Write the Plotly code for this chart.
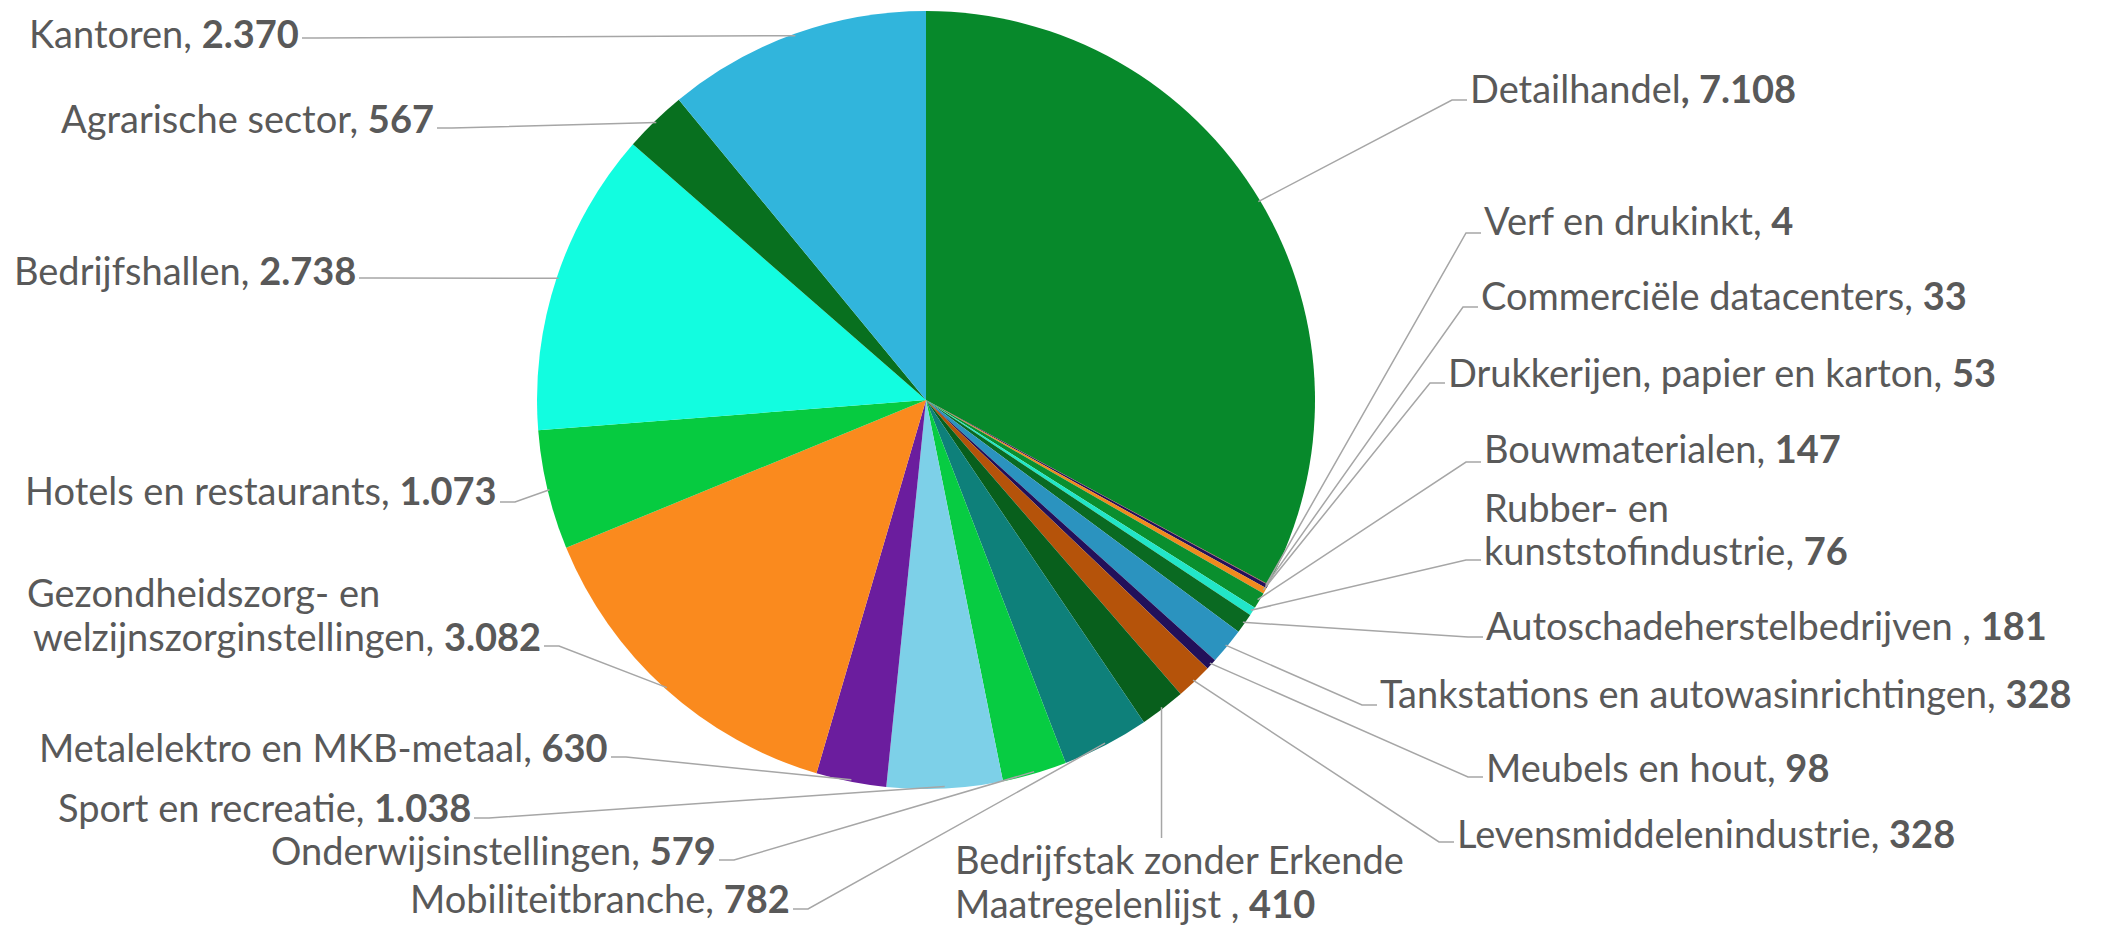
import math
import plotly.graph_objects as go

# ---------------- data ----------------
categories = [
    "Detailhandel", "Verf en drukinkt", "Commerciële datacenters",
    "Drukkerijen, papier en karton", "Bouwmaterialen", "Rubber- en kunststofindustrie",
    "Autoschadeherstelbedrijven", "Tankstations en autowasinrichtingen", "Meubels en hout",
    "Levensmiddelenindustrie", "Bedrijfstak zonder Erkende Maatregelenlijst",
    "Mobiliteitbranche", "Onderwijsinstellingen", "Sport en recreatie",
    "Metalelektro en MKB-metaal", "Gezondheidszorg- en welzijnszorginstellingen",
    "Hotels en restaurants", "Bedrijfshallen", "Agrarische sector", "Kantoren",
]
values = [7108, 4, 33, 53, 147, 76, 181, 328, 98, 328, 410,
          782, 579, 1038, 630, 3082, 1073, 2738, 567, 2370]
colors = [
    "#07892b", "#c0392b", "#23115a", "#f08a1e", "#0a8f2e", "#22e6c8",
    "#0a6a22", "#2b93bf", "#22105a", "#b5530a", "#085f1c",
    "#0e807a", "#07cc42", "#7dd0e8", "#6b1d9e", "#fa8a1e",
    "#06cb40", "#12fde0", "#08701f", "#31b5dc",
]
# label text lines (number appended in bold)
label_lines = [
    ["Detailhandel"], ["Verf en drukinkt"], ["Commerciële datacenters"],
    ["Drukkerijen, papier en karton"], ["Bouwmaterialen"], ["Rubber- en", "kunststofindustrie"],
    ["Autoschadeherstelbedrijven "], ["Tankstations en autowasinrichtingen"], ["Meubels en hout"],
    ["Levensmiddelenindustrie"], ["Bedrijfstak zonder Erkende", "Maatregelenlijst "],
    ["Mobiliteitbranche"], ["Onderwijsinstellingen"], ["Sport en recreatie"],
    ["Metalelektro en MKB-metaal"], ["Gezondheidszorg- en", "welzijnszorginstellingen"],
    ["Hotels en restaurants"], ["Bedrijfshallen"], ["Agrarische sector"], ["Kantoren"],
]

# ---------------- layout (pixels) ----------------
W, H = 2101, 929
CX, CY, R = 926, 400, 389
FONT = dict(family="Lato, 'Open Sans', sans-serif", size=38, color="#595959")
LINE_COLOR = "#a6a6a6"

# side, text edge x, text centre y of each line, leader-line y
label_pos = [
    ("R", 1469, [88], 100),
    ("R", 1483, [220], 233),
    ("R", 1480, [295], 307),
    ("R", 1447, [372], 383),
    ("R", 1483, [448], 462),
    ("R", 1483, [507, 550], 560),
    ("R", 1485, [625], 637),
    ("R", 1379, [693], 705),
    ("R", 1485, [767], 777),
    ("R", 1456, [833], 842),
    ("B", 954, [859, 903], 838),
    ("L", 791, [898], 909),
    ("L", 717, [850], 860),
    ("L", 472, [807], 818),
    ("L", 609, [747], 757),
    ("L", 542, [592, 636], 646),
    ("L", 498, [490], 502),
    ("L", 357, [270], 278),
    ("L", 435, [118], 128),
    ("L", 300, [33], 38),
]
GEZ_LEFT = 26


def fx(x):
    return x / W


def fy(y):
    return 1 - y / H


def fmt(v):
    return f"{v:,}".replace(",", ".")


fig = go.Figure(go.Pie(
    labels=categories, values=values, sort=False, direction="clockwise", rotation=0,
    marker=dict(colors=colors, line=dict(width=0)), textinfo="none",
    hoverinfo="label+value", showlegend=False,
    domain=dict(x=[(CX - R) / W, (CX + R) / W], y=[fy(CY + R), fy(CY - R)]),
))

total = sum(values)
cum = 0
shapes, annotations = [], []
STUB = 15
for i, v in enumerate(values):
    mid = (cum + v / 2) / total * 2 * math.pi
    cum += v
    px = CX + R * 0.995 * math.sin(mid)
    py = CY - R * 0.995 * math.cos(mid)
    side, tx, tys, ly = label_pos[i]
    lines = label_lines[i]
    num = fmt(values[i])
    if i == 0:
        last = lines[-1] + f"<b>, {num}</b>"
    else:
        last = lines[-1] + f", <b>{num}</b>"
    texts = lines[:-1] + [last]

    if side == "R":
        path = f"M {fx(px)},{fy(py)} L {fx(tx - STUB - 2)},{fy(ly)} L {fx(tx - 2)},{fy(ly)}"
        for t, ty in zip(texts, tys):
            annotations.append(dict(x=fx(tx), y=fy(ty), text=t, xanchor="left"))
    elif side == "L":
        path = f"M {fx(px)},{fy(py)} L {fx(tx + STUB + 2)},{fy(ly)} L {fx(tx + 2)},{fy(ly)}"
        if len(texts) == 1:
            annotations.append(dict(x=fx(tx), y=fy(tys[0]), text=texts[0], xanchor="right"))
        else:
            annotations.append(dict(x=fx(GEZ_LEFT), y=fy(tys[0]), text=texts[0], xanchor="left"))
            annotations.append(dict(x=fx(tx), y=fy(tys[1]), text=texts[1], xanchor="right"))
    else:  # below
        path = f"M {fx(px)},{fy(py)} L {fx(px)},{fy(ly)}"
        for t, ty in zip(texts, tys):
            annotations.append(dict(x=fx(tx), y=fy(ty), text=t, xanchor="left"))
    shapes.append(dict(type="path", path=path, xref="paper", yref="paper",
                       line=dict(color=LINE_COLOR, width=1.5), layer="above"))

for a in annotations:
    a.update(xref="paper", yref="paper", showarrow=False, yanchor="middle", font=FONT,
             borderpad=0)

fig.update_layout(
    width=W, height=H, margin=dict(l=0, r=0, t=0, b=0),
    paper_bgcolor="white", plot_bgcolor="white",
    shapes=shapes, annotations=annotations,
)

fig.write_html(
    "out.html",
    config={"displayModeBar": False},
    post_script="document.body.style.margin='0';document.body.style.overflow='hidden';",
)
